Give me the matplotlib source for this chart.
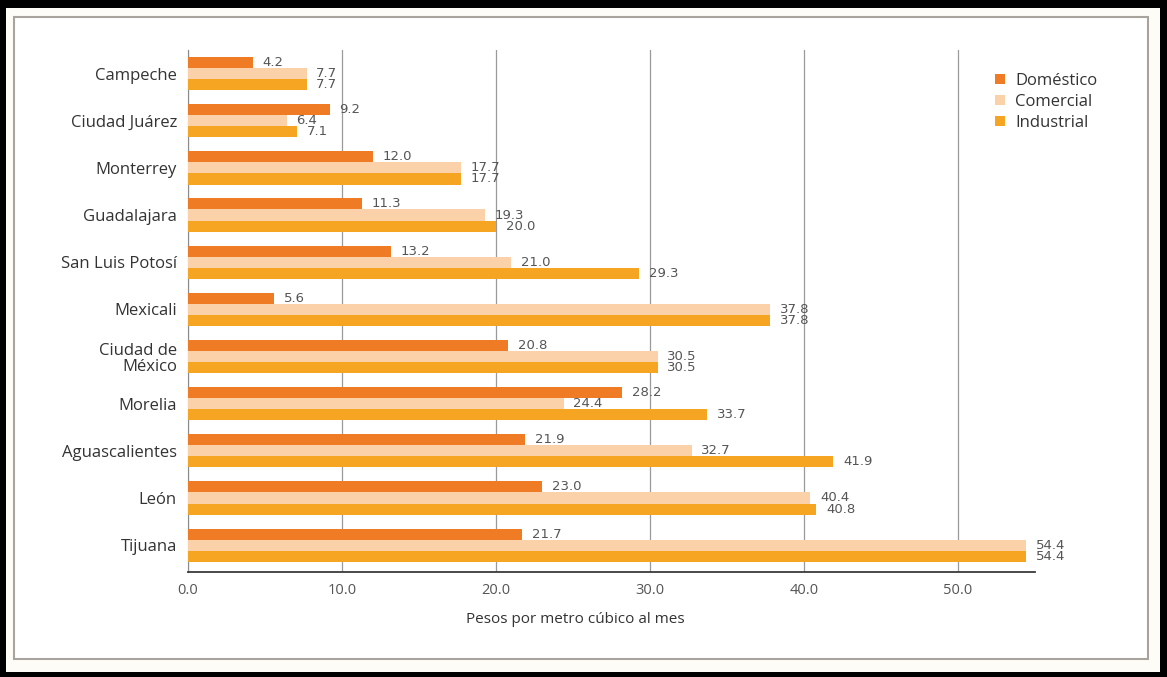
import numpy as np
import matplotlib
matplotlib.use('Agg')
import matplotlib.pyplot as plt
from matplotlib.patches import Rectangle


## Tarifas por ciudad ##
cities = ['Campeche', 'Ciudad Juárez', 'Monterrey', 'Guadalajara',
          'San Luis Potosí', 'Mexicali', 'Ciudad de\nMéxico', 'Morelia',
          'Aguascalientes', 'León', 'Tijuana']
domestico = [4.2, 9.2, 12.0, 11.3, 13.2, 5.6, 20.8, 28.2, 21.9, 23.0, 21.7]
comercial = [7.7, 6.4, 17.7, 19.3, 21.0, 37.8, 30.5, 24.4, 32.7, 40.4, 54.4]
industrial = [7.7, 7.1, 17.7, 20.0, 29.3, 37.8, 30.5, 33.7, 41.9, 40.8, 54.4]
series_names = ['Doméstico', 'Comercial', 'Industrial']
x_ticks = [0, 10, 20, 30, 40, 50]
x_label = 'Pesos por metro cúbico al mes'

colors = ['#EF7B25', '#FAD1A8', '#F5A522']
text_gray = '#555555'
label_font = 'Open Sans'


fig = plt.figure(figsize=[11.67, 6.77], dpi=100)
fig.patch.set_facecolor('black')

# off-white page inside the black border, then the thin frame
fig.add_artist(Rectangle((6 / 1167, 5 / 677), 1154 / 1167, 664 / 677,
                         transform=fig.transFigure, facecolor='#FDFCF7',
                         edgecolor='none', zorder=-3))
fig.add_artist(Rectangle((14 / 1167, 18 / 677), 1134 / 1167, 642 / 677,
                         transform=fig.transFigure, facecolor='white',
                         edgecolor='#A8A39C', lw=1.5, zorder=-2))

ax = fig.add_axes([188 / 1167, 105 / 677, 847 / 1167, 522 / 677])
ax.set_facecolor('none')

y = np.arange(len(cities))
h = 0.235
for k, (vals, name) in enumerate(zip([domestico, comercial, industrial],
                                     series_names)):
    pos = y + (k - 1) * h
    ax.barh(pos, vals, height=h, color=colors[k], label=name, zorder=3)
    for yy, v in zip(pos, vals):
        ax.annotate(f'{v:.1f}', xy=(v, yy), xytext=(7, 0),
                    textcoords='offset points', va='center', ha='left',
                    fontsize=9.5, color=text_gray, family='DejaVu Sans',
                    zorder=4)

ax.set_ylim(len(cities) - 1 + 0.57, -0.5)
ax.set_xlim(0, 55)
ax.set_yticks(y)
ax.set_yticklabels(cities, fontsize=12, color='#333333', family=label_font,
                   linespacing=1.05)
ax.set_xticks(x_ticks)
ax.set_xticklabels([f'{t:.1f}' for t in x_ticks], fontsize=10.5,
                   color=text_gray, family=label_font)
ax.tick_params(axis='both', length=0)
ax.tick_params(axis='x', pad=8)
ax.tick_params(axis='y', pad=8)

ax.grid(True, axis='x', color='#9A9A9A', lw=0.9, zorder=0)
ax.set_axisbelow(True)
for side in ['top', 'right']:
    ax.spines[side].set_visible(False)
ax.spines['left'].set_color('#8A8A8A')
ax.spines['bottom'].set_color('#3A3A3A')
ax.spines['bottom'].set_linewidth(1.3)

ax.set_xlabel(x_label, fontsize=11, color='#333333', family=label_font)
ax.xaxis.set_label_coords(0.457, -0.076)

leg = ax.legend(loc='upper left', bbox_to_anchor=(0.935, 0.985),
                frameon=False, handlelength=0.6,
                handleheight=0.6, handletextpad=0.6, labelspacing=0.3,
                prop={'family': label_font, 'size': 12})
for txt in leg.get_texts():
    txt.set_color('#333333')

plt.savefig('out.png', dpi=100, facecolor=fig.get_facecolor())
plt.close(fig)
